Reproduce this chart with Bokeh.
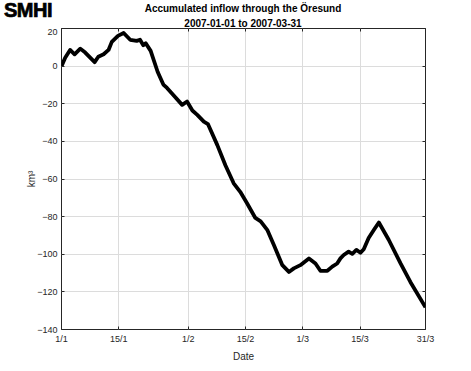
from bokeh.plotting import figure
from bokeh.models import FixedTicker, LinearAxis, Range1d, Div, CustomLabelingPolicy
from bokeh.layouts import column
from bokeh.embed import file_html
from bokeh.resources import INLINE

# Days since 2007-01-01 and accumulated inflow (km^3)
day = [0, 0.9, 2.1, 3.2, 4.6, 5.8, 8.1, 9.0, 10.3, 11.5, 12.3, 13.8, 15.2, 16.8,
       18.4, 19.2, 20.0, 20.6, 21.8, 23.5, 24.9, 25.8, 27.5, 29.5, 30.7, 32.0,
       33.2, 34.8, 35.8, 38.1, 40.1, 42.1, 43.7, 45.4, 47.4, 48.7, 50.3, 51.9,
       54.0, 55.6, 56.8, 58.4, 60.5, 62.1, 63.3, 65.0, 66.2, 67.4, 68.2, 69.0,
       70.2, 71.1, 72.1, 73.1, 73.9, 75.1, 76.4, 77.6, 80.0, 82.9, 85.3, 89.0]
inflow = [0, 4.5, 8.6, 6.3, 9.3, 7.2, 2.1, 5.0, 6.3, 8.6, 12.9, 16.1, 17.6, 14.0,
          13.4, 14.0, 11.1, 12.2, 8.1, -3.0, -9.8, -11.6, -15.7, -20.6, -18.8, -23.6,
          -25.9, -29.5, -30.8, -42.0, -52.8, -62.3, -66.8, -73.0, -80.7, -82.5, -87.0, -95.0,
          -105.8, -109.4, -107.5, -105.8, -102.2, -104.9, -108.8, -108.8, -106.6, -104.9, -102.2, -100.4,
          -98.6, -99.8, -97.7, -99.2, -97.3, -91.4, -87.0, -83.1, -92.3, -104.9, -114.7, -128.2]

tick_days = [0, 14, 31, 45, 59, 73, 89]
tick_labels = ["1/1", "15/1", "1/2", "15/2", "1/3", "15/3", "31/3"]
y_ticks = [-140, -120, -100, -80, -60, -40, -20, 0, 20]

title_lines = ["Accumulated inflow through the \u00d6resund", "2007-01-01 to 2007-03-31"]
logo_text = "SMHI"

FONT = "Liberation Sans"
DARK = "#262626"
W = 465

header_html = (
    '<div style="position:relative;width:%dpx;height:28px;overflow:visible;font-family:\'Liberation Sans\',Arial,sans-serif;color:#000;">'
    '<div style="position:absolute;left:4px;top:0px;font-size:20px;font-weight:bold;line-height:20px;'
    'letter-spacing:-0.5px;-webkit-text-stroke:0.7px #000;">%s</div>'
    '<div style="position:absolute;left:243px;top:1px;transform:translateX(-50%%);white-space:nowrap;text-align:center;'
    'font-size:10px;font-weight:bold;line-height:15px;">%s<br>%s</div>'
    '</div>'
) % (W, logo_text, title_lines[0], title_lines[1])
header = Div(text=header_html, width=W, height=28, margin=(0, 0, 0, 0))

p = figure(width=W, height=337, output_backend="svg", toolbar_location=None,
           x_range=Range1d(0, 89), y_range=Range1d(-140, 20),
           min_border_left=61, min_border_right=40, min_border_top=0, min_border_bottom=36,
           margin=(0, 0, 0, 0))
p.background_fill_color = "white"
p.border_fill_color = "white"
p.outline_line_color = DARK
p.outline_line_width = 1

p.line(day, inflow, line_width=3.8, line_color="black", line_join="round")

ax = p.xaxis[0]
ax.ticker = FixedTicker(ticks=tick_days)
ax.major_label_overrides = {d: l for d, l in zip(tick_days, tick_labels)}
ay = p.yaxis[0]
ay.ticker = FixedTicker(ticks=y_ticks)

for a in (ax, ay):
    a.axis_line_color = None
    a.major_tick_in = 3
    a.major_tick_out = 0
    a.major_tick_line_color = DARK
    a.minor_tick_line_color = None
    a.major_label_text_font = FONT
    a.major_label_text_font_size = "9px"
    a.major_label_text_color = DARK
    a.axis_label_text_font = FONT
    a.axis_label_text_font_size = "10px"
    a.axis_label_text_font_style = "normal"
    a.axis_label_text_color = DARK

ax.axis_label = "Date"
ax.major_label_standoff = 4
ax.axis_label_standoff = 4
ay.axis_label = "km\u00b3"
ay.major_label_standoff = 4
ay.axis_label_standoff = -3

no_labels = CustomLabelingPolicy(
    code="for (let i = 0; i < indices.size; i++) { indices.unset(i) } return indices")
no_labels2 = CustomLabelingPolicy(
    code="for (let i = 0; i < indices.size; i++) { indices.unset(i) } return indices")

top = LinearAxis(ticker=FixedTicker(ticks=tick_days), axis_line_color=None,
                 major_tick_in=3, major_tick_out=0, major_tick_line_color=DARK,
                 minor_tick_line_color=None, major_label_text_font_size="9px",
                 major_label_text_color=None, major_label_policy=no_labels,
                 major_label_standoff=0)
right = LinearAxis(ticker=FixedTicker(ticks=y_ticks), axis_line_color=None,
                   major_tick_in=3, major_tick_out=0, major_tick_line_color=DARK,
                   minor_tick_line_color=None, major_label_text_font_size="9px",
                   major_label_text_color=None, major_label_policy=no_labels2,
                   major_label_standoff=0)
p.add_layout(top, "above")
p.add_layout(right, "right")

for g in (p.xgrid[0], p.ygrid[0]):
    g.grid_line_color = "#dcdcdc"
    g.grid_line_width = 1
p.xgrid[0].ticker = FixedTicker(ticks=tick_days)
p.ygrid[0].ticker = FixedTicker(ticks=y_ticks)

layout = column(header, p, spacing=0)
open("out.html", "w").write(file_html(layout, INLINE))
